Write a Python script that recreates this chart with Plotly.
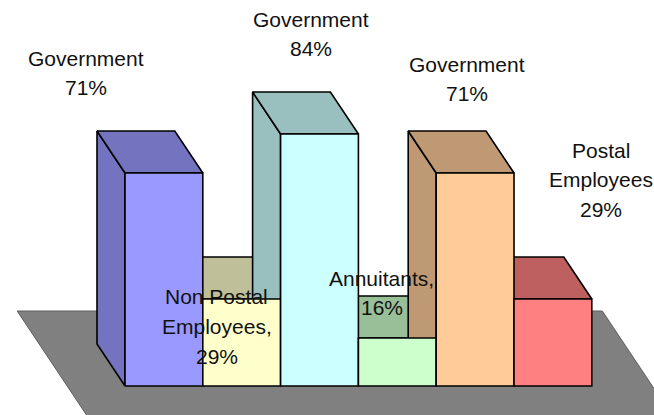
import plotly.graph_objects as go

categories = ["Government", "Non Postal Employees", "Government", "Annuitants", "Government", "Postal Employees"]
values = [71, 29, 84, 16, 71, 29]
front_colors = ["#9999FF", "#FFFFCC", "#CCFFFF", "#CCFFCC", "#FFCC99", "#FF8080"]
side_colors = ["#7373BF", "#BFBF99", "#99BFBF", "#99BF99", "#BF9973", "#BF6060"]
label_lines = [
    ["Government", "71%"],
    ["Non Postal", "Employees,", "29%"],
    ["Government", "84%"],
    ["Annuitants,", "16%"],
    ["Government", "71%"],
    ["Postal", "Employees", "29%"],
]
# centre of each label's first line, in axis units
label_x = [-0.50, 1.18, 2.39, 3.30, 4.40, 6.118]
label_y = [109.3, 29.7, 122.3, 36.0, 107.3, 78.6]

PX_PER_X = 77.8
PX_PER_Y = 3.0
DEPTH_X = -28 / PX_PER_X
DEPTH_Y = 42 / PX_PER_Y
FLOOR_BACK_Y = 25.0
FLOOR_FRONT_Y = -11.0
FLOOR_BACK_LEFT = -1.386
FLOOR_BACK_RIGHT = 6.135
SLOPE = DEPTH_X / DEPTH_Y

fig = go.Figure()


def poly(xs, ys, fill, line_color="black", width=1.6):
    fig.add_trace(go.Scatter(
        x=xs + xs[:1], y=ys + ys[:1], mode="lines", fill="toself", fillcolor=fill,
        line=dict(color=line_color, width=width), hoverinfo="skip", showlegend=False,
    ))


drop = FLOOR_BACK_Y - FLOOR_FRONT_Y
poly([FLOOR_BACK_LEFT, FLOOR_BACK_RIGHT, FLOOR_BACK_RIGHT - SLOPE * drop, FLOOR_BACK_LEFT - SLOPE * drop],
     [FLOOR_BACK_Y, FLOOR_BACK_Y, FLOOR_FRONT_Y, FLOOR_FRONT_Y], "#808080", "#5c5c5c", 1)

for i, v in enumerate(values):
    l, r = i, i + 1
    poly([l, l, l + DEPTH_X, l + DEPTH_X], [0, v, v + DEPTH_Y, DEPTH_Y], side_colors[i])
    poly([l, r, r + DEPTH_X, l + DEPTH_X], [v, v, v + DEPTH_Y, v + DEPTH_Y], side_colors[i])

for i, v in enumerate(values):
    l, r = i, i + 1
    poly([l, r, r, l], [0, 0, v, v], front_colors[i])

for lines, x, y in zip(label_lines, label_x, label_y):
    for n, text in enumerate(lines):
        fig.add_annotation(x=x, y=y, xref="x", yref="y", text=text, showarrow=False,
                           yshift=-29.7 * n, xanchor="center", yanchor="middle",
                           font=dict(family="Liberation Sans", size=21, color="#111111"))

W, H = 654, 415
fig.update_layout(
    width=W, height=H, margin=dict(l=0, r=0, t=0, b=0),
    paper_bgcolor="white", plot_bgcolor="white", showlegend=False,
    xaxis=dict(range=[-125 / PX_PER_X, (W - 125) / PX_PER_X], visible=False, fixedrange=True),
    yaxis=dict(range=[(386 - H) / PX_PER_Y, 386 / PX_PER_Y], visible=False, fixedrange=True),
)
fig.write_html("out.html", config=dict(displayModeBar=False),
               post_script="document.body.style.margin='0';document.body.style.overflow='hidden';")
